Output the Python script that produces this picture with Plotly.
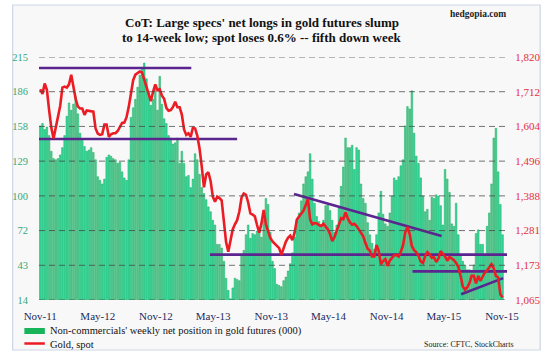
import pandas as pd
import plotly.graph_objects as go

# ---------------- data ----------------
start_date = "2011-11-01"
net_longs = [
    158,160,155,157,150,137,131,130,131,134,
    140,150,166,177,171,176,182,168,152,146,
    141,137,138,140,136,130,116,113,110,114,
    132,134,133,131,130,127,128,120,115,113,
    130,165,173,180,190,200,206,210,197,185,
    175,180,188,171,199,176,164,160,150,148,
    143,144,148,127,137,127,116,117,107,114,
    135,130,118,107,102,97,91,87,80,76,
    60,60,57,46,32,22,15,24,32,31,
    30,52,55,68,76,65,69,68,71,73,
    66,80,98,93,70,46,40,27,26,25,
    30,33,38,44,53,66,80,86,96,110,
    116,120,135,114,94,83,79,76,80,92,
    93,88,80,70,76,90,108,124,148,140,
    140,142,122,140,138,110,98,94,78,68,
    61,56,68,86,104,85,77,75,86,100,
    115,113,116,125,130,158,174,172,187,152,
    133,127,115,100,87,89,80,99,98,101,
    100,92,76,122,114,103,77,75,94,68,
    51,46,43,39,39,37,43,69,72,60,
    60,52,75,86,110,148,156,120,93,68,
]
gold_spot = [
    1720,1705,1738,1718,1655,1600,1567,1600,1640,1668,
    1725,1728,1725,1735,1765,1725,1690,1666,1660,1660,
    1640,1654,1652,1650,1650,1598,1582,1578,1580,1610,
    1610,1572,1580,1583,1583,1590,1605,1615,1616,1633,
    1665,1710,1748,1765,1770,1775,1772,1750,1725,1705,
    1683,1712,1735,1717,1720,1700,1690,1662,1653,1655,
    1665,1681,1664,1664,1641,1595,1578,1583,1572,1600,
    1598,1575,1536,1480,1415,1455,1462,1435,1386,1370,
    1386,1382,1375,1310,1245,1215,1250,1284,1300,1313,
    1340,1384,1396,1392,1368,1334,1330,1325,1298,1274,
    1303,1345,1300,1277,1258,1247,1240,1233,1226,1205,
    1225,1246,1258,1265,1251,1275,1315,1324,1331,1343,
    1360,1378,1315,1300,1304,1303,1298,1295,1302,1293,
    1284,1270,1248,1260,1280,1306,1319,1316,1337,1319,
    1306,1299,1302,1295,1284,1276,1263,1242,1224,1218,
    1200,1200,1236,1218,1176,1186,1192,1171,1187,1196,
    1204,1205,1200,1215,1235,1275,1292,1270,1232,1220,
    1213,1202,1184,1180,1202,1214,1207,1196,1198,1183,
    1193,1217,1210,1200,1187,1199,1194,1189,1180,1168,
    1140,1107,1097,1104,1117,1140,1140,1117,1140,1124,
    1138,1150,1157,1168,1176,1164,1140,1135,1082,1073,
]
weeks = pd.date_range(start_date, periods=len(net_longs), freq="7D")

# trend / support lines drawn on the chart (gold scale)
trend_start_dates = ["2011-09-01", "2011-09-01", "2013-04-21", "2014-01-12", "2015-01-22", "2015-06-25"]
trend_end_dates   = ["2013-02-21", "2013-07-16", "2015-11-26", "2015-04-24", "2015-12-06", "2015-11-05"]
trend_start_vals  = [1786, 1565, 1206, 1394, 1154, 1083]
trend_end_vals    = [1786, 1565, 1206, 1264, 1154, 1133]

left_ticks  = [14 + i * (215 - 14) / 7 for i in range(8)]
left_labels = ["14", "43", "72", "100", "129", "158", "186", "215"]
right_ticks = [1065 + i * (1820 - 1065) / 7 for i in range(8)]
right_labels = ["1,065", "1,173", "1,281", "1,388", "1,496", "1,604", "1,712", "1,820"]
x_tick_dates = ["2011-11-01", "2012-05-01", "2012-11-01", "2013-05-01", "2013-11-01",
                "2014-05-01", "2014-11-01", "2015-05-01", "2015-11-01"]
x_tick_labels = ["Nov-11", "May-12", "Nov-12", "May-13", "Nov-13",
                 "May-14", "Nov-14", "May-15", "Nov-15"]

# ---------------- figure ----------------
SERIF = "Liberation Serif, Times New Roman, serif"
W, H = 552, 358
ML, MR, MT, MB = 32, 40, 57, 58
PW, PH = W - ML - MR, H - MT - MB

def px(x):
    return (x - ML) / PW

def py(y):
    return (H - MB - y) / PH

fig = go.Figure()
fig.add_trace(go.Bar(
    x=weeks, y=net_longs, yaxis="y",
    marker=dict(color="#3dd89e", line=dict(color="#10a04f", width=0.45)),
    name="Non-commercials' weekly net position in gold futures (000)",
    showlegend=False,
))
for xs, xe, vs, ve in zip(trend_start_dates, trend_end_dates, trend_start_vals, trend_end_vals):
    fig.add_trace(go.Scatter(
        x=[xs, xe], y=[vs, ve], yaxis="y2", mode="lines",
        line=dict(color="#5b2590", width=2.6), showlegend=False, hoverinfo="skip",
    ))
fig.add_trace(go.Scatter(
    x=weeks, y=gold_spot, yaxis="y2", mode="lines",
    line=dict(color="#ec1c24", width=2.6),
    name="Gold, spot", showlegend=False,
))

fig.update_layout(
    width=W, height=H,
    margin=dict(l=ML, r=MR, t=MT, b=MB),
    paper_bgcolor="white",
    plot_bgcolor="#fbfbec",
    bargap=0.28,
    xaxis=dict(
        type="date", range=["2011-10-28", "2015-11-17"],
        tickvals=x_tick_dates, ticktext=x_tick_labels,
        showgrid=False, zeroline=False, showline=False,
        ticks="outside", ticklen=6, tickcolor="rgba(0,0,0,0)",
        tickfont=dict(family=SERIF, size=11, color="#1d2b5c"),
    ),
    yaxis=dict(
        range=[14, 215], tickvals=left_ticks, ticktext=left_labels,
        showgrid=False, zeroline=False, showline=False,
        ticks="outside", ticklen=8, tickcolor="rgba(0,0,0,0)",
        tickfont=dict(family=SERIF, size=10.5, color="#35a878"),
    ),
    yaxis2=dict(
        range=[1065, 1820], tickvals=right_ticks, ticktext=right_labels,
        overlaying="y", side="right", showgrid=False, zeroline=False, showline=False,
        ticks="outside", ticklen=5, tickcolor="rgba(0,0,0,0)",
        tickfont=dict(family=SERIF, size=11, color="#e3303a"),
    ),
)

shapes = [
    # outer frame
    dict(type="rect", xref="paper", yref="paper", layer="below",
         x0=px(5), x1=px(546), y0=py(350), y1=py(5),
         line=dict(color="#cdd5e4", width=1.2), fillcolor="#f8f8f8"),
    # legend swatches
    dict(type="rect", xref="paper", yref="paper",
         x0=px(17), x1=px(38), y0=py(334), y1=py(328),
         line=dict(width=0), fillcolor="#17b45a"),
    dict(type="line", xref="paper", yref="paper",
         x0=px(17), x1=px(38), y0=py(343.5), y1=py(343.5),
         line=dict(color="#ec1c24", width=2.5)),
]
# dashed gridlines drawn over the bars (as in the original)
for t in left_ticks:
    shapes.append(dict(type="line", xref="paper", yref="y", layer="above",
                       x0=0, x1=1, y0=t, y1=t,
                       line=dict(color="rgba(70,70,70,0.75)", width=1, dash="6px,4px")))
fig.update_layout(shapes=shapes)

annotations = [
    dict(text="<b>CoT: Large specs' net longs in gold futures slump</b>",
         x=px(261), y=py(22), xref="paper", yref="paper", showarrow=False,
         xanchor="center", yanchor="middle",
         font=dict(family=SERIF, size=13, color="#111111")),
    dict(text="<b>to 14-week low; spot loses 0.6% -- fifth down week</b>",
         x=px(261), y=py(37.5), xref="paper", yref="paper", showarrow=False,
         xanchor="center", yanchor="middle",
         font=dict(family=SERIF, size=13, color="#111111")),
    dict(text="<b>hedgopia.com</b>", x=px(513), y=py(14), xref="paper", yref="paper",
         showarrow=False, xanchor="right", yanchor="middle",
         font=dict(family=SERIF, size=9.5, color="#222222")),
    dict(text="Non-commercials' weekly net position in gold futures (000)",
         x=px(41), y=py(331), xref="paper", yref="paper", showarrow=False,
         xanchor="left", yanchor="middle",
         font=dict(family=SERIF, size=10.5, color="#111111")),
    dict(text="Gold, spot", x=px(41), y=py(344), xref="paper", yref="paper",
         showarrow=False, xanchor="left", yanchor="middle",
         font=dict(family=SERIF, size=10.5, color="#111111")),
    dict(text="Source: CFTC, StockCharts", x=px(521), y=py(344), xref="paper", yref="paper",
         showarrow=False, xanchor="right", yanchor="middle",
         font=dict(family=SERIF, size=8, color="#222222")),
]
fig.update_layout(annotations=annotations)

fig.write_html("out.html", config={"displayModeBar": False},
               post_script="document.body.style.margin='0';")
